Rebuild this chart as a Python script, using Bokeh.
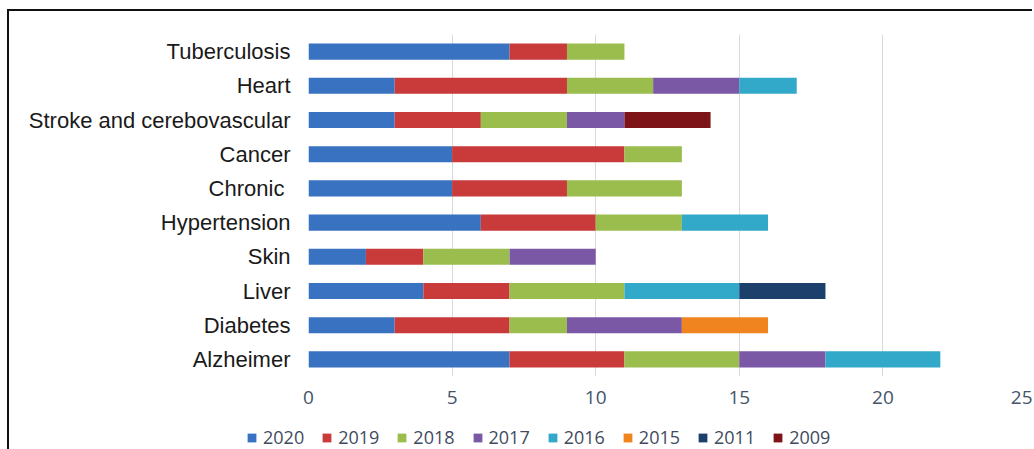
from bokeh.plotting import figure
from bokeh.layouts import column
from bokeh.models import ColumnDataSource, Range1d, FactorRange, FixedTicker, Legend, LegendItem
from bokeh.embed import file_html
from bokeh.resources import INLINE

categories = ["Alzheimer", "Diabetes", "Liver", "Skin", "Hypertension", "Chronic ",
              "Cancer", "Stroke and cerebovascular", "Heart", "Tuberculosis"]
years = ["2020", "2019", "2018", "2017", "2016", "2015", "2011", "2009"]
v2020 = [7, 3, 4, 2, 6, 5, 5, 3, 3, 7]
v2019 = [4, 4, 3, 2, 4, 4, 6, 3, 6, 2]
v2018 = [4, 2, 4, 3, 3, 4, 2, 3, 3, 2]
v2017 = [3, 4, 0, 3, 0, 0, 0, 2, 3, 0]
v2016 = [4, 0, 4, 0, 3, 0, 0, 0, 2, 0]
v2015 = [0, 3, 0, 0, 0, 0, 0, 0, 0, 0]
v2011 = [0, 0, 3, 0, 0, 0, 0, 0, 0, 0]
v2009 = [0, 0, 0, 0, 0, 0, 0, 3, 0, 0]
x_ticks = [0, 5, 10, 15, 20, 25]
colors = ["#3A72C2", "#C93A3B", "#9ABD4E", "#7B58A6", "#33A9C9", "#F0851F", "#1C3F6B", "#7D1518"]

data = {"2020": v2020, "2019": v2019, "2018": v2018, "2017": v2017,
        "2016": v2016, "2015": v2015, "2011": v2011, "2009": v2009}
source = ColumnDataSource(dict(cat=categories, **data))

# ---- main chart ----
p = figure(width=1023, height=405, output_backend="svg", toolbar_location=None,
           y_range=FactorRange(*categories, range_padding=0), x_range=Range1d(0, 25),
           min_border_left=299, min_border_right=6, min_border_top=23, min_border_bottom=40)
p.outline_line_color = None
p.background_fill_color = "white"
p.border_fill_color = "white"

renderers = p.hbar_stack(years, y="cat", height=0.47, color=colors, source=source, line_color=None)

p.xaxis.ticker = FixedTicker(ticks=x_ticks)
p.xaxis.axis_line_color = None
p.xaxis.major_tick_line_color = None
p.xaxis.minor_tick_line_color = None
p.xaxis.major_tick_out = 0
p.xaxis.major_tick_in = 0
p.xaxis.major_label_standoff = 14
p.xaxis.major_label_text_font = "Open Sans"
p.xaxis.major_label_text_font_size = "19px"
p.xaxis.major_label_text_color = "#44546A"

p.yaxis.axis_line_color = None
p.yaxis.major_tick_line_color = None
p.yaxis.major_tick_out = 0
p.yaxis.major_tick_in = 0
p.yaxis.major_label_standoff = 18
p.yaxis.major_label_text_font = "Liberation Sans"
p.yaxis.major_label_text_font_size = "22px"
p.yaxis.major_label_text_color = "#1A1A1A"

p.xgrid.grid_line_color = "#D9D9D9"
p.xgrid.ticker = FixedTicker(ticks=x_ticks)
p.ygrid.grid_line_color = None

# ---- legend strip (swatches only; off-range so nothing shows in its frame) ----
lg = figure(width=1023, height=33, output_backend="svg", toolbar_location=None,
            x_range=Range1d(0, 1), y_range=Range1d(0, 1),
            min_border_left=0, min_border_right=0, min_border_top=0, min_border_bottom=0)
for fig in (p, lg):
    try:
        fig.frame_align = False
    except Exception:
        pass
lg.axis.visible = False
lg.grid.visible = False
lg.outline_line_color = None
lg.background_fill_color = "white"
lg.border_fill_color = "white"
swatches = [lg.quad(left=[5], right=[6], bottom=[5], top=[6], fill_color=c, line_color=None)
            for c in colors]

items = [LegendItem(label=y, renderers=[r]) for y, r in zip(years, swatches)]
legend = Legend(items=items, orientation="horizontal", location=(237, 0),
                glyph_width=11, glyph_height=11, label_height=16, label_standoff=6,
                spacing=17, padding=0, margin=0, border_line_color=None,
                background_fill_alpha=0,
                label_text_font="Open Sans", label_text_font_size="18px",
                label_text_color="#3F4B5F")
lg.add_layout(legend, "center")

layout = column(p, lg, spacing=0)
layout.styles = {"border-top": "2px solid #111111", "border-left": "2px solid #111111",
                 "margin-left": "7px", "margin-top": "9px"}

open("out.html", "w").write(file_html(layout, INLINE))
